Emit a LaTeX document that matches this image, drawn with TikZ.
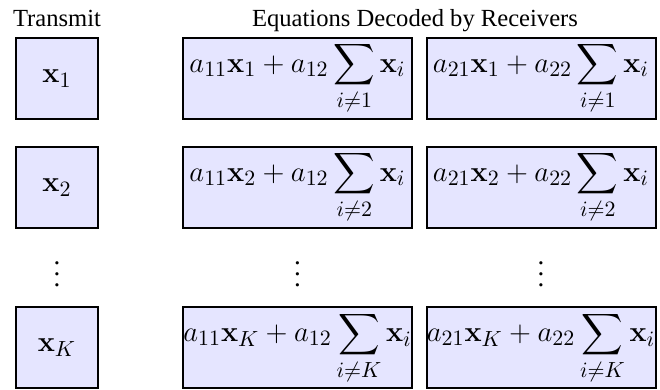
\documentclass[tikz,border=0pt]{standalone}
\usepackage[no-math]{fontspec}
\setmainfont{Liberation Serif}
\usepackage{amsmath}
\begin{document}
\begin{tikzpicture}[x=0.5pt,y=-0.5pt,
  cell/.style={draw=black,line width=1pt,fill=blue!10,inner sep=0pt,
    minimum height=40.5pt,font=\fontsize{15}{18}\selectfont},
  tcell/.style={cell,minimum width=41pt},
  ecell/.style={cell,minimum width=114.5pt},
  head/.style={inner sep=0pt,font=\fontsize{12.3}{14}\selectfont},
  vdot/.style={inner sep=0pt}]
\useasboundingbox (0,0) rectangle (660,390);
\node[head,anchor=base] (ht) at (57,27) {Transmit};
\node[head,anchor=base] (he) at (415,27) {Equations Decoded by Receivers};
% row 1
\node[tcell] (t1) at (57,78.5) {$\mathbf{x}_1$};
\node[ecell] (a1) at (297.5,78.5) {$\displaystyle a_{11}\mathbf{x}_1+a_{12}\sum_{i\neq 1}\mathbf{x}_i$};
\node[ecell] (b1) at (541,78.5) {$\displaystyle a_{21}\mathbf{x}_1+a_{22}\sum_{i\neq 1}\mathbf{x}_i$};
% row 2
\node[tcell] (t2) at (57,187.5) {$\mathbf{x}_2$};
\node[ecell] (a2) at (297.5,187.5) {$\displaystyle a_{11}\mathbf{x}_2+a_{12}\sum_{i\neq 2}\mathbf{x}_i$};
\node[ecell] (b2) at (541,187.5) {$\displaystyle a_{21}\mathbf{x}_2+a_{22}\sum_{i\neq 2}\mathbf{x}_i$};
% dots
\node[vdot] (d0) at (57,266) {\scalebox{1.35}{$\vdots$}};
\node[vdot] (d1) at (297.5,266) {\scalebox{1.35}{$\vdots$}};
\node[vdot] (d2) at (541,266) {\scalebox{1.35}{$\vdots$}};
% row K
\node[tcell] (tK) at (57,348) {$\mathbf{x}_K$};
\node[ecell] (aK) at (297.5,348) {$\displaystyle a_{11}\mathbf{x}_K+a_{12}\sum_{i\neq K}\mathbf{x}_i$};
\node[ecell] (bK) at (541,348) {$\displaystyle a_{21}\mathbf{x}_K+a_{22}\sum_{i\neq K}\mathbf{x}_i$};
\end{tikzpicture}
\end{document}
